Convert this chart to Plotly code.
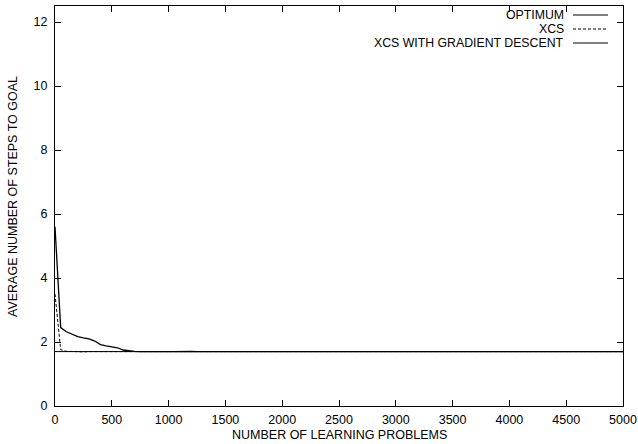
import plotly.graph_objects as go

problems = list(range(0, 5001, 50))

optimum_x = [0, 5000]
optimum_y = [1.70, 1.70]

xcs = [3.50, 1.76, 1.71, 1.70, 1.70, 1.69, 1.70, 1.70, 1.69, 1.70,
       1.70, 1.69, 1.70, 1.70, 1.70, 1.69, 1.70, 1.70, 1.71, 1.70,
       1.69, 1.70, 1.70, 1.70, 1.69, 1.70, 1.70, 1.70, 1.70, 1.69,
       1.70, 1.70, 1.69, 1.70, 1.70, 1.70, 1.70, 1.69, 1.70, 1.70,
       1.70, 1.69, 1.70, 1.70, 1.70, 1.70, 1.69, 1.70, 1.70, 1.70,
       1.69, 1.70, 1.70, 1.70, 1.70, 1.69, 1.70, 1.70, 1.70, 1.69,
       1.70, 1.70, 1.70, 1.70, 1.69, 1.70, 1.70, 1.70, 1.69, 1.70,
       1.70, 1.70, 1.70, 1.69, 1.70, 1.70, 1.70, 1.70, 1.69, 1.70,
       1.70, 1.70, 1.69, 1.70, 1.70, 1.70, 1.70, 1.69, 1.70, 1.70,
       1.70, 1.69, 1.70, 1.70, 1.70, 1.70, 1.69, 1.70, 1.70, 1.70,
       1.70]

gradient = [5.60, 2.45, 2.32, 2.24, 2.17, 2.13, 2.10, 2.03, 1.92, 1.88,
            1.85, 1.82, 1.75, 1.72, 1.71, 1.70, 1.71, 1.70, 1.70, 1.71,
            1.70, 1.70, 1.71, 1.70, 1.71, 1.70, 1.70, 1.71, 1.72, 1.70,
            1.71, 1.70, 1.70, 1.71, 1.70, 1.70, 1.71, 1.70, 1.70, 1.71,
            1.70, 1.71, 1.70, 1.70, 1.71, 1.70, 1.70, 1.71, 1.70, 1.71,
            1.70, 1.70, 1.71, 1.70, 1.70, 1.71, 1.70, 1.70, 1.71, 1.70,
            1.70, 1.71, 1.70, 1.70, 1.72, 1.70, 1.71, 1.70, 1.70, 1.71,
            1.70, 1.70, 1.71, 1.70, 1.70, 1.71, 1.70, 1.70, 1.71, 1.70,
            1.70, 1.71, 1.70, 1.70, 1.72, 1.71, 1.70, 1.70, 1.71, 1.70,
            1.70, 1.71, 1.70, 1.70, 1.71, 1.70, 1.70, 1.71, 1.70, 1.70,
            1.70]

legend_labels = ["OPTIMUM", "XCS", "XCS WITH GRADIENT DESCENT"]
legend_dashes = ["solid", "dash", "solid"]

x_ticks = list(range(0, 5001, 500))
y_ticks = list(range(0, 13, 2))

x_title = "NUMBER OF LEARNING PROBLEMS"
y_title = "AVERAGE NUMBER OF STEPS TO GOAL"

FONT = "Liberation Sans, Arial, sans-serif"

fig = go.Figure()
fig.add_trace(go.Scatter(x=optimum_x, y=optimum_y, mode="lines",
                         line=dict(color="black", width=1), name=legend_labels[0]))
fig.add_trace(go.Scatter(x=problems, y=xcs, mode="lines",
                         line=dict(color="black", width=1, dash="3px,2px"), name=legend_labels[1]))
fig.add_trace(go.Scatter(x=problems, y=gradient, mode="lines",
                         line=dict(color="black", width=1.3), name=legend_labels[2]))

W, H = 638, 444
ml, mr, mt, mb = 55, 15, 6, 38
pw, ph = W - ml - mr, H - mt - mb

def px_to_paper_x(px):
    return (px - ml) / pw

def px_to_paper_y(py):
    return (H - mb - py) / ph

annotations = []
shapes = []
rows_y = [15, 29, 43]
for lab, dash, ry in zip(legend_labels, legend_dashes, rows_y):
    annotations.append(dict(x=px_to_paper_x(565), y=px_to_paper_y(ry), xref="paper", yref="paper",
                            text=lab, showarrow=False, xanchor="right", yanchor="middle",
                            borderpad=0,
                            font=dict(family=FONT, size=12.3, color="black")))
    shapes.append(dict(type="line", xref="paper", yref="paper",
                       x0=px_to_paper_x(573), x1=px_to_paper_x(608),
                       y0=px_to_paper_y(ry), y1=px_to_paper_y(ry),
                       line=dict(color="black", width=1, dash="3px,2px" if dash == "dash" else "solid")))

annotations.append(dict(x=px_to_paper_x(13), y=px_to_paper_y(197), xref="paper", yref="paper",
                        text=y_title, showarrow=False, textangle=-90,
                        xanchor="center", yanchor="middle",
                        font=dict(family=FONT, size=12.5, color="black")))
annotations.append(dict(x=px_to_paper_x(339), y=px_to_paper_y(435), xref="paper", yref="paper",
                        text=x_title, showarrow=False,
                        xanchor="center", yanchor="middle",
                        font=dict(family=FONT, size=12.5, color="black")))

fig.update_layout(
    width=W, height=H,
    margin=dict(l=ml, r=mr, t=mt, b=mb, autoexpand=False),
    paper_bgcolor="white", plot_bgcolor="white",
    showlegend=False,
    font=dict(family=FONT, size=12.5, color="black"),
    annotations=annotations,
    shapes=shapes,
    xaxis=dict(range=[0, 5000], tickvals=x_ticks, ticks="inside", ticklen=6, tickcolor="black",
               showline=True, linecolor="black", linewidth=1, mirror="ticks", showgrid=False,
               zeroline=False, tickfont=dict(family=FONT, size=12.5), automargin=False,
               ticklabeloverflow="allow", ticklabelstandoff=2),
    yaxis=dict(range=[0, 12.5], tickvals=y_ticks, ticks="inside", ticklen=6, tickcolor="black",
               showline=True, linecolor="black", linewidth=1, mirror="ticks", showgrid=False,
               zeroline=False, tickfont=dict(family=FONT, size=12.5), ticklabelstandoff=4,
               automargin=False),
)

fig.write_html("out.html", config={"displayModeBar": False},
               post_script="document.body.style.margin='0';")
